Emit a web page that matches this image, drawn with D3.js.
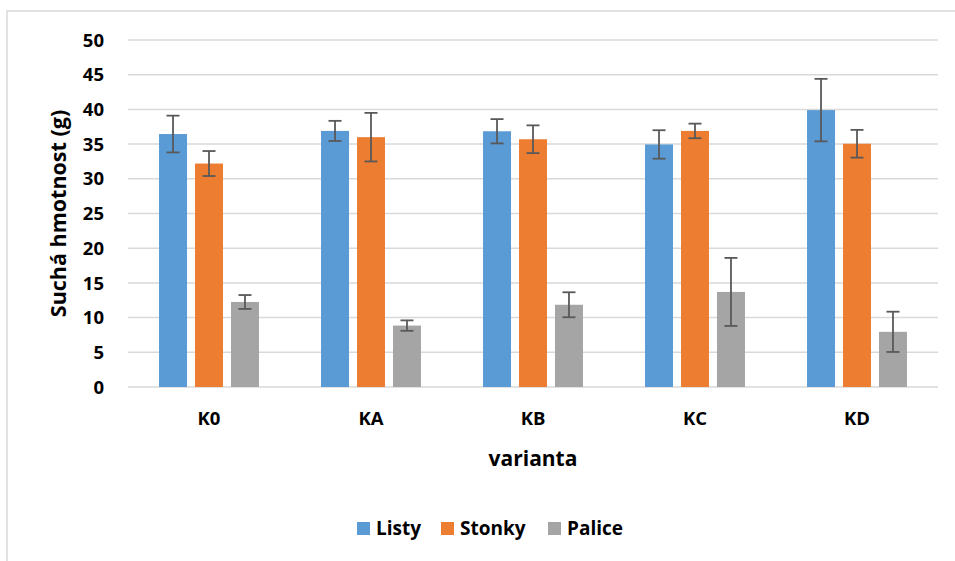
<!DOCTYPE html>
<html>
<head>
<meta charset="utf-8">
<script src="https://cdn.jsdelivr.net/npm/d3@7"></script>
<style>
  html, body { margin: 0; padding: 0; background: #fff; }
  svg { display: block; font-family: "Open Sans", "Liberation Sans", sans-serif; }
</style>
</head>
<body>
<svg id="chart" width="955" height="561"></svg>
<script>
const categories = ["K0", "KA", "KB", "KC", "KD"];
const seriesNames = ["Listy", "Stonky", "Palice"];
const listy = [36.45, 36.9, 36.85, 34.95, 39.9];
const stonky = [32.2, 36.0, 35.7, 36.9, 35.05];
const palice = [12.25, 8.85, 11.85, 13.7, 7.95];
const listyErr = [2.65, 1.45, 1.75, 2.05, 4.5];
const stonkyErr = [1.8, 3.5, 2.0, 1.05, 2.0];
const paliceErr = [1.0, 0.75, 1.8, 4.9, 2.9];
const yTicks = [0, 5, 10, 15, 20, 25, 30, 35, 40, 45, 50];
const colors = ["#5B9BD5", "#ED7D31", "#A5A5A5"];

const values = [listy, stonky, palice];
const errors = [listyErr, stonkyErr, paliceErr];

const svg = d3.select("#chart");

// outer border
svg.append("rect")
  .attr("x", 7).attr("y", 11)
  .attr("width", 970).attr("height", 570)
  .attr("fill", "#fff").attr("stroke", "#D9D9D9").attr("stroke-width", 1.5);

const pLeft = 128, pRight = 938, pTop = 40, pBottom = 387;

const x0 = d3.scaleBand().domain(categories).range([pLeft, pRight])
  .paddingInner(0.383).paddingOuter(0.1915);
const x1 = d3.scaleBand().domain(seriesNames).range([0, x0.bandwidth()])
  .paddingInner(0.222).paddingOuter(0);
const y = d3.scaleLinear().domain([0, 50]).range([pBottom, pTop]);

// gridlines
svg.append("g").selectAll("line").data(yTicks).join("line")
  .attr("x1", pLeft).attr("x2", pRight)
  .attr("y1", d => y(d)).attr("y2", d => y(d))
  .attr("stroke", "#D9D9D9").attr("stroke-width", 1.5);

// y tick labels
svg.append("g").selectAll("text").data(yTicks).join("text")
  .attr("x", 104).attr("y", d => y(d))
  .attr("dy", "0.36em")
  .attr("text-anchor", "end")
  .attr("font-size", 18.5).attr("font-weight", 700).attr("fill", "#000")
  .text(d => d);

// bars
const rows = [];
categories.forEach((c, i) => {
  seriesNames.forEach((s, j) => {
    rows.push({ cat: c, ser: s, j, v: values[j][i], e: errors[j][i] });
  });
});

svg.append("g").selectAll("rect").data(rows).join("rect")
  .attr("x", d => x0(d.cat) + x1(d.ser))
  .attr("y", d => y(d.v))
  .attr("width", x1.bandwidth())
  .attr("height", d => y(0) - y(d.v))
  .attr("fill", d => colors[d.j]);

// error bars
const eg = svg.append("g").attr("stroke", "#595959").attr("stroke-width", 1.8).attr("fill", "none");
const cap = 6.5;
rows.forEach(d => {
  const cx = x0(d.cat) + x1(d.ser) + x1.bandwidth() / 2;
  eg.append("line").attr("x1", cx).attr("x2", cx).attr("y1", y(d.v + d.e)).attr("y2", y(d.v - d.e));
  eg.append("line").attr("x1", cx - cap).attr("x2", cx + cap).attr("y1", y(d.v + d.e)).attr("y2", y(d.v + d.e));
  eg.append("line").attr("x1", cx - cap).attr("x2", cx + cap).attr("y1", y(d.v - d.e)).attr("y2", y(d.v - d.e));
});

// x labels
svg.append("g").selectAll("text").data(categories).join("text")
  .attr("x", d => x0(d) + x0.bandwidth() / 2)
  .attr("y", 425)
  .attr("text-anchor", "middle")
  .attr("font-size", 18.5).attr("font-weight", 700).attr("fill", "#000")
  .text(d => d);

// axis titles
svg.append("text")
  .attr("x", (pLeft + pRight) / 2).attr("y", 466)
  .attr("text-anchor", "middle")
  .attr("font-size", 21).attr("font-weight", 700).attr("fill", "#000")
  .text("varianta");

svg.append("text")
  .attr("transform", `translate(66, ${(pTop + pBottom) / 2}) rotate(-90)`)
  .attr("text-anchor", "middle")
  .attr("font-size", 21.5).attr("font-weight", 700).attr("fill", "#000")
  .text("Suchá hmotnost (g)");

// legend
const legendX = [357, 441, 548];
const lg = svg.append("g");
seriesNames.forEach((s, j) => {
  lg.append("rect").attr("x", legendX[j]).attr("y", 522).attr("width", 13).attr("height", 13).attr("fill", colors[j]);
  lg.append("text").attr("x", legendX[j] + 19).attr("y", 534.5)
    .attr("font-size", 19).attr("font-weight", 700).attr("fill", "#000")
    .text(s);
});
</script>
</body>
</html>
